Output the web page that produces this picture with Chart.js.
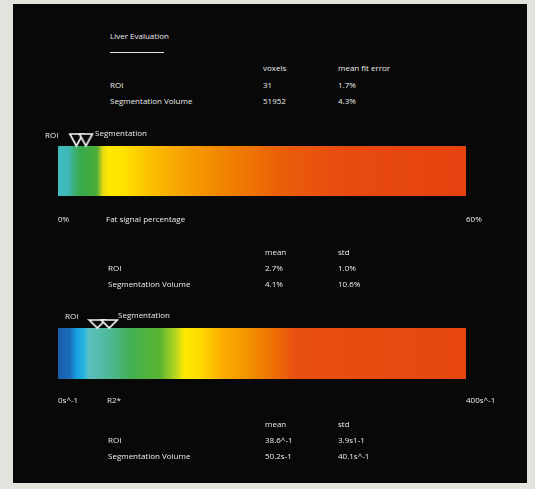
<!DOCTYPE html>
<html>
<head>
<meta charset="utf-8">
<script src="https://cdn.jsdelivr.net/npm/chart.js@4"></script>
<style>
  html, body { margin: 0; padding: 0; }
  body { width: 535px; height: 489px; background: #e3e3dd; position: relative; overflow: hidden;
         font-family: "Open Sans", "DejaVu Sans", sans-serif; }
  #panel { position: absolute; left: 13px; top: 4px; width: 514px; height: 479px; background: #080808; }
  .t { position: absolute; font-size: 8px; line-height: 10px; color: #ededed; white-space: nowrap; }
  .rule { position: absolute; height: 1px; background: #e0e0e0; }
  canvas { position: absolute; left: 0; }
</style>
</head>
<body>
<div id="panel"></div>
<div class="rule" style="left:110px; top:52px; width:54px;"></div>
<canvas id="fatChart" width="535" height="120" style="top:120px"></canvas>
<canvas id="r2Chart" width="535" height="120" style="top:300px"></canvas>
<script>
// Row names shared by all three tables
const rowLabels = ['ROI', 'Segmentation Volume'];

// Liver evaluation summary
const voxels = [31, 51952];
const meanFitError = [1.7, 4.3];

// Fat signal percentage scale and statistics
const fatRange = [0, 60];
const fatTickLabels = ['0%', '60%'];
const fatMean = [2.7, 4.1];
const fatStd = [1.0, 10.6];

// R2* scale and statistics
const r2Range = [0, 400];
const r2TickLabels = ['0s^-1', '400s^-1'];
const r2Mean = [38.6, 50.2];
const r2MeanUnits = ['^-1', 's-1'];
const r2Std = [3.9, 40.1];
const r2StdUnits = ['s1-1', 's^-1'];

const TEXT = '#ededed';
const FONT = { family: '"Open Sans", "DejaVu Sans", sans-serif', size: 8 };

function label(text, x, yMid) {
  const d = document.createElement('div');
  d.className = 't';
  d.textContent = text;
  d.style.left = x + 'px';
  d.style.top = (yMid - 5) + 'px';
  document.body.appendChild(d);
}

function table(top, headers, colA, colB) {
  label(headers[0], 265, top);
  label(headers[1], 338, top);
  rowLabels.forEach((name, i) => {
    label(name, 108, top + 16 + i * 15.5);
    label(colA[i], 265, top + 16 + i * 15.5);
    label(colB[i], 338, top + 16 + i * 15.5);
  });
}

// Header block
label('Liver Evaluation', 110, 36);
label('voxels', 263, 68);
label('mean fit error', 338, 68);
rowLabels.forEach((name, i) => {
  label(name, 110, 85 + i * 16);
  label(String(voxels[i]), 263, 85 + i * 16);
  label(meanFitError[i].toFixed(1) + '%', 338, 85 + i * 16);
});

// Axis titles and marker captions
label('Fat signal percentage', 106, 219);
label('ROI', 45, 135);
label('Segmentation', 95, 133);
table(252, ['mean', 'std'], fatMean.map(v => v.toFixed(1) + '%'), fatStd.map(v => v.toFixed(1) + '%'));

label('R2*', 107, 400);
label('ROI', 65, 316);
label('Segmentation', 118, 315);
table(424, ['mean', 'std'], r2Mean.map((v, i) => v.toFixed(1) + r2MeanUnits[i]), r2Std.map((v, i) => v.toFixed(1) + r2StdUnits[i]));

// Outlined downward triangle whose tip sits at the image centre
function triangleMarker(w, h) {
  const c = document.createElement('canvas');
  c.width = w + 4;
  c.height = 2 * (h + 2);
  const ctx = c.getContext('2d');
  ctx.beginPath();
  ctx.moveTo(2, 2);
  ctx.lineTo(w + 2, 2);
  ctx.lineTo(w / 2 + 2, h + 2);
  ctx.closePath();
  ctx.fillStyle = '#080808';
  ctx.fill();
  ctx.lineWidth = 1.7;
  ctx.strokeStyle = '#f4f4f4';
  ctx.lineJoin = 'miter';
  ctx.stroke();
  return c;
}

function gradientFill(stops) {
  return (ctx) => {
    const area = ctx.chart.chartArea;
    if (!area) return stops[0][1];
    const g = ctx.chart.ctx.createLinearGradient(area.left, 0, area.right, 0);
    stops.forEach(([p, c]) => g.addColorStop(p, c));
    return g;
  };
}

function scaleBar(canvasId, range, tickLabels, means, stops, marker, pad) {
  new Chart(document.getElementById(canvasId), {
    type: 'bar',
    data: {
      labels: ['scale'],
      datasets: [
        {
          type: 'scatter',
          indexAxis: 'x',
          xAxisID: 'x',
          yAxisID: 'yMarker',
          data: means.map(v => ({ x: v, y: 1 })),
          pointStyle: marker,
          pointRadius: 6,
          clip: false,
          order: 0
        },
        {
          type: 'bar',
          indexAxis: 'y',
          xAxisID: 'x',
          yAxisID: 'y',
          data: [range],
          backgroundColor: gradientFill(stops),
          borderWidth: 0,
          barPercentage: 1,
          categoryPercentage: 1,
          order: 1
        }
      ]
    },
    options: {
      responsive: false,
      animation: false,
      events: [],
      layout: { padding: { left: 58, right: 69, top: pad.top, bottom: pad.bottom } },
      plugins: { legend: { display: false }, tooltip: { enabled: false } },
      scales: {
        x: {
          type: 'linear',
          offset: false,
          grace: 0,
          min: range[0],
          max: range[1],
          afterBuildTicks: (s) => { s.ticks = range.map(v => ({ value: v })); },
          afterFit: (s) => { s.height = 30; },
          grid: { display: false, drawTicks: false, offset: false },
          border: { display: false },
          ticks: {
            align: 'start',
            padding: pad.tick,
            color: TEXT,
            font: FONT,
            maxRotation: 0,
            autoSkip: false,
            callback: (v, i) => tickLabels[i]
          }
        },
        y: { type: 'category', display: false, offset: true },
        yMarker: { type: 'linear', display: false, min: 0, max: 1, offset: false }
      }
    }
  });
}

scaleBar('fatChart', fatRange, fatTickLabels, fatMean, [
  [0.00, '#3fbcc2'], [0.025, '#3eb8b6'], [0.045, '#3bae62'], [0.06, '#38a948'],
  [0.095, '#4aac3a'], [0.11, '#e6dc10'], [0.125, '#ffe800'], [0.16, '#ffe200'],
  [0.22, '#fcc200'], [0.30, '#f6a300'], [0.42, '#f08000'], [0.55, '#ea5e0a'],
  [0.70, '#e84b10'], [1.00, '#e5420f']
], triangleMarker(13, 12), { top: 26, bottom: 14, tick: 19 });

scaleBar('r2Chart', r2Range, r2TickLabels, r2Mean, [
  [0.00, '#195cab'], [0.03, '#1b6cbc'], [0.045, '#19a0e0'], [0.065, '#2ab6de'],
  [0.075, '#5cc0c2'], [0.13, '#4cb892'], [0.18, '#43b050'], [0.25, '#5ab532'],
  [0.29, '#bcd820'], [0.31, '#ffe800'], [0.34, '#ffe000'], [0.40, '#fcb000'],
  [0.47, '#f39000'], [0.53, '#ee6e05'], [0.58, '#e8500f'], [1.00, '#e64510']
], triangleMarker(16, 8), { top: 28, bottom: 11, tick: 17 });
</script>
</body>
</html>
